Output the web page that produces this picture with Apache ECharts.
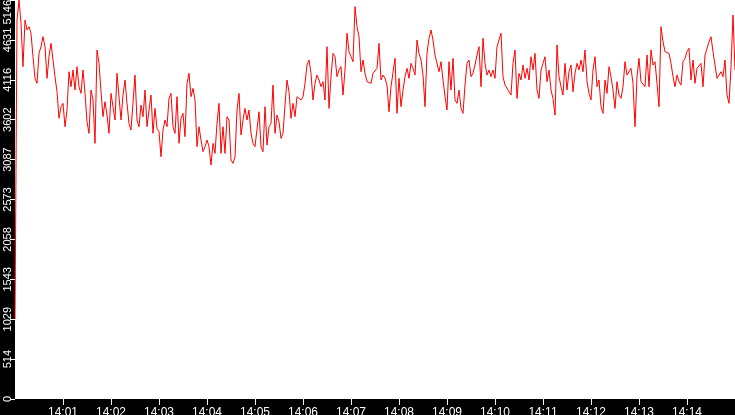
<!DOCTYPE html>
<html>
<head>
<meta charset="utf-8">
<script src="https://cdn.jsdelivr.net/npm/echarts@6/dist/echarts.min.js"></script>
<style>
  html, body { margin: 0; padding: 0; background: #000; }
  #chart { width: 735px; height: 415px; }
</style>
</head>
<body>
<div id="chart"></div>
<script>
// one sample every 2.5 s, 14:00:00 .. 14:15:00
var stepSec = 2.5;

var values = [
    1030, 4888, 5146, 4845, 4286, 4888, 4759, 4802, 4716, 4415,
    4136, 4071, 4458, 4544, 4673, 4544, 4136, 4415, 4587, 4608,
    4157, 3963, 3620, 3770, 3813, 3512, 3727, 4221, 4028, 4243,
    3985, 4286, 4028, 3942, 4243, 3942, 3577, 3426, 3985, 3856,
    3297, 4501, 4329, 3963, 3641, 3834, 3662, 3426, 3942, 3770,
    3598, 4200, 4221, 3598, 3920, 4114, 3813, 3555, 3469, 3490,

    4178, 3598, 3512, 3791, 3641, 3985, 3512, 3727, 3920, 3426,
    3748, 3490, 3447, 3125, 3469, 3598, 3512, 3877, 3942, 3512,
    3426, 3899, 3297, 3620, 3684, 3383, 4071, 4200, 3899, 4006,
    3856, 3254, 3512, 3340, 3190, 3254, 3340, 3254, 3017, 3297,
    3168, 3555, 3813, 3168, 3512, 3168, 3641, 3598, 3082, 3039,
    3125, 3727, 3942, 3405, 3598, 3748, 3598, 3727, 3426, 3297,

    3254, 3275, 3705, 3254, 3190, 3770, 3275, 3512, 3555, 4049,
    3426, 3662, 3577, 3361, 3426, 3791, 4114, 3963, 3620, 3813,
    3641, 3899, 3899, 3856, 3899, 4071, 4307, 4372, 4200, 3856,
    4071, 4178, 4114, 4028, 4093, 3856, 4544, 3748, 4157, 4458,
    4415, 4157, 4243, 4286, 3920, 4243, 4716, 4480, 4415, 4350,
    5060, 4802, 4673, 4221, 4372, 4200, 4093, 4114, 4071, 4200,

    4221, 4265, 4587, 4114, 4178, 4136, 4049, 3705, 4028, 4028,
    4393, 3684, 4136, 3770, 3985, 4157, 4265, 4136, 4329, 4265,
    4178, 4630, 4458, 4372, 4178, 3770, 4458, 4652, 4759, 4630,
    4436, 4415, 4221, 4350, 4114, 3899, 3727, 4350, 3985, 4393,
    3856, 3813, 3985, 3748, 3684, 4049, 4329, 4372, 4157, 4200,
    4307, 4436, 4544, 4028, 4652, 4329, 4178, 4243, 4157, 4243,

    4136, 4544, 4630, 4716, 4157, 4049, 4028, 3963, 3920, 4329,
    4501, 3877, 4200, 4114, 4307, 4136, 4265, 4114, 4415, 4243,
    4458, 3985, 3877, 4243, 4329, 4415, 4093, 4243, 3985, 3877,
    3662, 4566, 4157, 4028, 3920, 4329, 3985, 4221, 4307, 3963,
    4200, 4329, 4243, 4372, 4221, 4501, 4093, 3942, 3856, 4243,
    4415, 4028, 4114, 3770, 3684, 4114, 3942, 4286, 4157, 3985,

    3748, 4093, 3920, 3877, 4028, 4350, 4178, 4157, 4265, 4071,
    3512, 4157, 4393, 4093, 4114, 4028, 4436, 4028, 4501, 4307,
    4350, 4071, 3770, 4802, 4608, 4480, 4458, 4458, 4329, 4157,
    4028, 4178, 4093, 4049, 4350, 4393, 4480, 4523, 4114, 4372,
    4071, 4265, 4243, 4329, 4028, 4436, 4415, 4608, 4673, 4480,
    4307, 4136, 4114, 4221, 4157, 4372, 3920, 3813, 4286, 4952,
    4243
];

var xTickLabels = ['14:01', '14:02', '14:03', '14:04', '14:05', '14:06', '14:07',
                   '14:08', '14:09', '14:10', '14:11', '14:12', '14:13', '14:14'];
var yTickLabels = ['0', '514', '1029', '1543', '2058', '2573', '3087',
                   '3602', '4116', '4631', '5146'];

var yMax = 5146;

var myChart = echarts.init(document.getElementById('chart'));

var seriesData = values.map(function (v, i) { return [i * stepSec, v]; });

// seconds after 14:00 for every minute label
var xTickValues = xTickLabels.map(function (s) {
    return (parseInt(s.split(':')[1], 10)) * 60;
});

var labelFont = {
    color: '#ffffff',
    fontFamily: 'Liberation Sans',
    fontSize: 11
};

var option = {
    backgroundColor: '#000000',
    animation: false,
    grid: {
        left: 15,
        right: 0,
        top: 0,
        bottom: 16,
        outerBoundsMode: 'none',
        show: true,
        backgroundColor: '#ffffff',
        borderWidth: 0
    },
    xAxis: {
        type: 'value',
        min: 0,
        max: 900,
        axisLine: {show: false},
        splitLine: {show: false},
        axisTick: {
            show: true,
            length: 6,
            customValues: xTickValues,
            lineStyle: {color: '#ffffff', width: 1}
        },
        axisLabel: Object.assign({
            margin: 8,
            hideOverlap: false,
            customValues: xTickValues,
            formatter: function (v) {
                return xTickLabels[xTickValues.indexOf(v)] || '';
            }
        }, labelFont, {fontSize: 12})
    },
    yAxis: {
        type: 'value',
        min: 0,
        max: yMax,
        interval: yMax / 10,
        axisLine: {show: false},
        splitLine: {show: false},
        axisTick: {
            show: true,
            length: 5,
            lineStyle: {color: '#ffffff', width: 1}
        },
        axisLabel: Object.assign({
            rotate: 90,
            margin: 2,
            hideOverlap: false,
            showMinLabel: true,
            showMaxLabel: true,
            alignMaxLabel: 'right',
            formatter: function (v, i) {
                return yTickLabels[i] !== undefined ? yTickLabels[i] : String(Math.floor(v + 1e-6));
            }
        }, labelFont)
    },
    series: [
        {
            type: 'line',
            data: seriesData,
            showSymbol: false,
            symbol: 'none',
            lineStyle: {color: '#ff0000', width: 1},
            itemStyle: {color: '#ff0000'}
        }
    ]
};

myChart.setOption(option);
</script>
</body>
</html>
